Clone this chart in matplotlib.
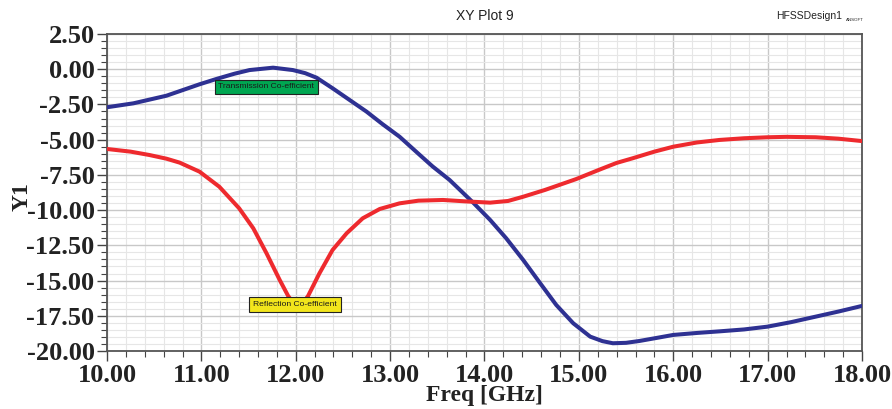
import matplotlib
matplotlib.use("Agg")
import matplotlib.pyplot as plt
from matplotlib.ticker import MultipleLocator, FormatStrFormatter

# Data
trans_freq = [10.0, 10.28, 10.63, 10.98, 11.16, 11.35, 11.51, 11.76, 11.97, 12.1, 12.22,
              12.39, 12.57, 12.75, 12.92, 13.10, 13.3, 13.45, 13.63, 13.88, 14.06, 14.23,
              14.41, 14.59, 14.76, 14.94, 15.12, 15.25, 15.36, 15.5, 15.64, 15.8, 16.0,
              16.25, 16.5, 16.75, 17.0, 17.25, 17.51, 17.75, 18.0]
trans_val = [-2.70, -2.42, -1.88, -1.07, -0.69, -0.32, -0.06, 0.11, -0.06, -0.28, -0.6,
             -1.35, -2.18, -3.01, -3.9, -4.79, -6.0, -6.9, -7.86, -9.47, -10.7, -12.0,
             -13.54, -15.19, -16.73, -18.03, -18.98, -19.3, -19.45, -19.42, -19.29, -19.1, -18.86,
             -18.72, -18.6, -18.47, -18.27, -17.95, -17.56, -17.2, -16.8]

refl_freq = [10.0, 10.25, 10.45, 10.63, 10.77, 10.98, 11.19, 11.40, 11.55, 11.69, 11.83,
             11.92, 11.97, 12.02, 12.08, 12.13, 12.25, 12.39, 12.54, 12.71, 12.89, 13.10,
             13.3, 13.56, 13.8, 14.06, 14.25, 14.41, 14.64, 14.82, 14.97, 15.21, 15.4,
             15.57, 15.8, 16.0, 16.25, 16.49, 16.75, 17.0, 17.2, 17.51, 17.75, 18.0]
refl_val = [-5.66, -5.85, -6.09, -6.35, -6.63, -7.27, -8.34, -9.87, -11.29, -13.06, -14.96,
            -16.1, -16.55, -16.7, -16.55, -16.1, -14.5, -12.83, -11.64, -10.58, -9.92, -9.52,
            -9.33, -9.28, -9.38, -9.47, -9.35, -9.05, -8.57, -8.15, -7.80, -7.15, -6.65,
            -6.32, -5.85, -5.5, -5.2, -5.02, -4.9, -4.83, -4.8, -4.83, -4.93, -5.1]

trans_label = "Transmission Co-efficient"
refl_label = "Reflection Co-efficient"

fig = plt.figure(figsize=(8.92, 4.09), dpi=100)
ax = fig.add_axes([107/892, 58/409, (862-107)/892, (351-34)/409])

ax.plot(trans_freq, trans_val, color="#2e3192", lw=2.9, solid_joinstyle="round",
        solid_capstyle="round", zorder=3)
ax.plot(refl_freq, refl_val, color="#ee2a2e", lw=2.9, solid_joinstyle="round",
        solid_capstyle="round", zorder=3)

ax.set_xlim(10, 18)
ax.set_ylim(-20, 2.5)
ax.xaxis.set_major_locator(MultipleLocator(1))
ax.xaxis.set_minor_locator(MultipleLocator(0.2))
ax.yaxis.set_major_locator(MultipleLocator(2.5))
ax.yaxis.set_minor_locator(MultipleLocator(0.5))
ax.xaxis.set_major_formatter(FormatStrFormatter("%.2f"))
ax.yaxis.set_major_formatter(FormatStrFormatter("%.2f"))

ax.grid(which="major", color="#c8c8c8", lw=1.0, zorder=0)
ax.grid(which="minor", color="#e6e6e6", lw=0.8, zorder=0)
ax.set_axisbelow(True)

for sp in ax.spines.values():
    sp.set_color("#555555")
    sp.set_linewidth(1.3)

ax.tick_params(which="major", direction="out", length=7, width=1.0, color="#444444",
               labelsize=19, pad=2)
ax.tick_params(which="minor", direction="out", length=4, width=0.8, color="#444444")
for lab in ax.get_xticklabels() + ax.get_yticklabels():
    lab.set_fontfamily("Liberation Serif")
    lab.set_fontweight("bold")
    lab.set_color("#222222")

ax.set_xlabel("Freq [GHz]", fontfamily="Liberation Serif", fontweight="bold", fontsize=17,
              color="#222222", labelpad=-1)
ax.set_ylabel("Y1", fontfamily="Liberation Serif", fontweight="bold", fontsize=17,
              color="#222222")
ax.yaxis.set_label_coords(-0.099, 0.486)

fig.text(485/892, 1 - 16/409, "XY Plot 9", ha="center", va="center",
         fontfamily="Liberation Sans", fontsize=10, color="#222222")
fig.text(842/892, 1 - 16/409, "HFSSDesign1", ha="right", va="center",
         fontfamily="Liberation Sans", fontsize=7.5, color="#222222")
fig.text(846/892, 1 - 20/409, "ANSOFT", ha="left", va="center",
         fontfamily="Liberation Sans", fontsize=3.2, color="#222222")

ax.text(11.18, -1.26, trans_label, fontsize=6.1, fontfamily="Liberation Sans",
        ha="left", va="center", color="#1a1a1a", zorder=5,
        bbox=dict(boxstyle="square,pad=0.45", fc="#00a651", ec="#222222", lw=0.8))
ax.text(11.55, -16.72, refl_label, fontsize=6.1, fontfamily="Liberation Sans",
        ha="left", va="center", color="#1a1a1a", zorder=5,
        bbox=dict(boxstyle="square,pad=0.45", fc="#f2e51c", ec="#222222", lw=0.8))

fig.savefig("out.png", dpi=100)
